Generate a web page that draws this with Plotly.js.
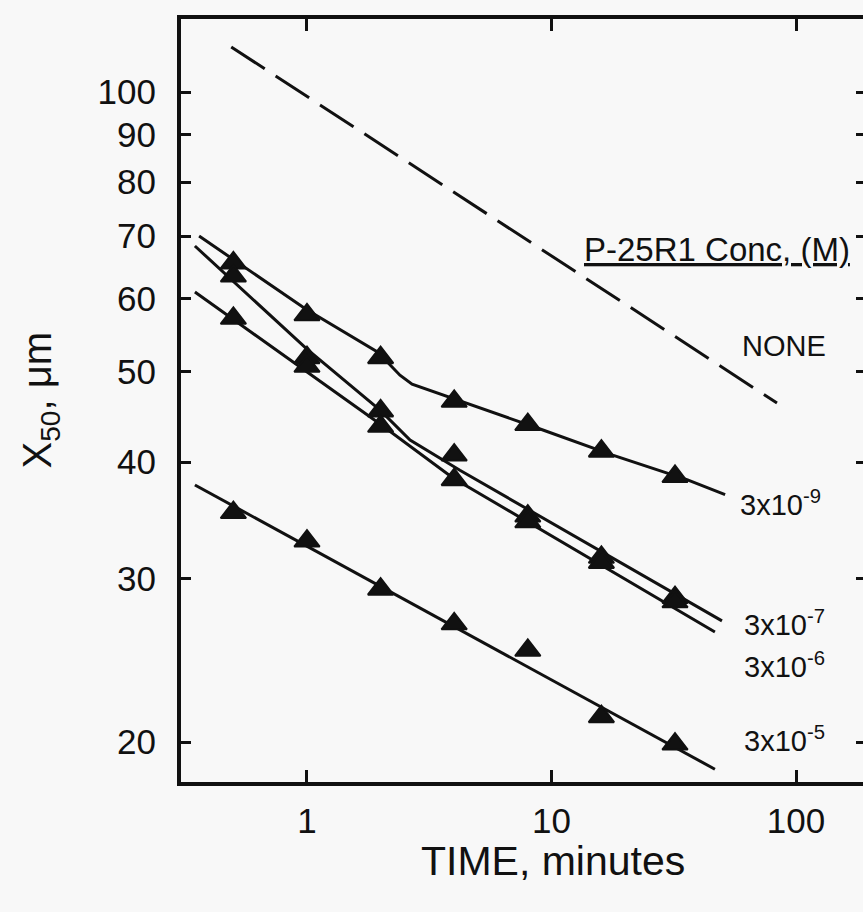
<!DOCTYPE html>
<html>
<head>
<meta charset="utf-8">
<script src="https://cdn.plot.ly/plotly-3.0.1.min.js"></script>
<style>
  html, body { margin: 0; padding: 0; background: #f8f8f8; overflow: hidden; }
  #chart { width: 880px; height: 912px; }
</style>
</head>
<body>
<div id="chart"></div>
<script>
// Measured points (time in minutes, X50 in micrometres)
const timeMin = [0.5, 1, 2, 4, 8, 16, 32];
const x50_3e9 = [65.5, 57.6, 51.8, 46.5, 43.9, 41.1, 38.6];
const x50_3e7 = [63.4, 51.8, 45.4, 40.7, 35.0, 31.6, 28.6];
const x50_3e6 = [57.1, 50.7, 43.7, 38.3, 34.5, 31.2, 28.3];
const x50_3e5 = [35.3, 32.9, 29.2, 26.8, 25.1, 21.3, 19.9];

// Fitted curves
const fitNone_t   = [0.49, 83.6];
const fitNone_x50 = [111.8, 46.3];
const fit3e9_t    = [0.362, 0.991, 1.95, 2.40, 2.69, 3.99, 8.81, 17.8, 35.8, 51.3];
const fit3e9_x50  = [70.0, 58.4, 52.5, 49.6, 48.5, 46.8, 43.5, 40.7, 38.3, 36.9];
const fit3e7_t    = [0.348, 1.0, 1.99, 2.64, 4.22, 49.8];
const fit3e7_x50  = [68.3, 52.9, 45.5, 42.25, 39.2, 27.0];
const fit3e6_t    = [0.348, 0.936, 1.99, 3.955, 46.6];
const fit3e6_x50  = [60.95, 50.6, 43.96, 38.46, 26.27];
const fit3e5_t    = [0.348, 46.6];
const fit3e5_x50  = [37.8, 18.7];

const xTicks = [1, 10, 100];
const yTicks = [20, 30, 40, 50, 60, 70, 80, 90, 100];

const INK = '#111111';
const FONT = 'Liberation Sans, Arial, sans-serif';

function fit(t, v) {
  return { x: t, y: v, type: 'scatter', mode: 'lines',
           line: { color: INK, width: 3 }, hoverinfo: 'skip', showlegend: false };
}
function pts(v) {
  return { x: timeMin, y: v, type: 'scatter', mode: 'markers',
           marker: { symbol: 'triangle-up', size: 22, color: INK,
                     line: { color: INK, width: 2 } }, showlegend: false };
}

const traces = [
  { x: fitNone_t, y: fitNone_x50, type: 'scatter', mode: 'lines',
    line: { color: INK, width: 3, dash: '40px,13px' }, showlegend: false },
  fit(fit3e9_t, fit3e9_x50),
  fit(fit3e7_t, fit3e7_x50),
  fit(fit3e6_t, fit3e6_x50),
  fit(fit3e5_t, fit3e5_x50),
  pts(x50_3e9), pts(x50_3e7), pts(x50_3e6), pts(x50_3e5)
];

function lab(text, lx, ly, size) {
  return { text: text, xref: 'x', yref: 'y', x: lx, y: ly, showarrow: false,
           xanchor: 'left', yanchor: 'middle',
           font: { family: FONT, size: size, color: INK } };
}

const layout = {
  width: 880, height: 912,
  margin: { l: 181, r: 14, t: 19, b: 130 },
  paper_bgcolor: '#f8f8f8', plot_bgcolor: '#f8f8f8',
  font: { family: FONT, color: INK },
  showlegend: false,
  xaxis: {
    type: 'log', range: [-0.5153, 2.2863],
    tickvals: xTicks, ticktext: xTicks.map(String),
    ticks: 'inside', ticklen: 12, tickwidth: 3, tickcolor: INK,
    showline: true, linewidth: 4, linecolor: INK, mirror: 'ticks',
    showgrid: false, zeroline: false,
    tickfont: { family: FONT, size: 35, color: INK },
    ticklabelstandoff: 5
  },
  yaxis: {
    type: 'log', range: [1.2581, 2.0785],
    tickvals: yTicks, ticktext: yTicks.map(String),
    ticks: 'inside', ticklen: 10, tickwidth: 3, tickcolor: INK,
    showline: true, linewidth: 4, linecolor: INK, mirror: 'ticks',
    showgrid: false, zeroline: false,
    tickfont: { family: FONT, size: 35, color: INK },
    ticklabelstandoff: 14
  },
  annotations: [
    lab('<u>P-25R1 Conc, (M)</u>', 1.1247, 1.8312, 33),
    lab('NONE', 1.771, 1.7269, 29),
    lab('3x10<sup>-9</sup>', 1.7628, 1.5581, 29),
    lab('3x10<sup>-7</sup>', 1.7791, 1.4290, 29),
    lab('3x10<sup>-6</sup>', 1.7791, 1.3839, 29),
    lab('3x10<sup>-5</sup>', 1.7791, 1.3043, 29),
    { text: 'TIME, minutes', xref: 'paper', yref: 'paper', x: 0.543, y: -0.103,
      xanchor: 'center', yanchor: 'middle', showarrow: false,
      font: { family: FONT, size: 41, color: INK } },
    { text: 'X<sub>50</sub>, μm', xref: 'paper', yref: 'paper', x: -0.2060, y: 0.5,
      xanchor: 'center', yanchor: 'middle', showarrow: false, textangle: -90,
      font: { family: FONT, size: 40, color: INK } }
  ]
};

Plotly.newPlot('chart', traces, layout, { displayModeBar: false, staticPlot: true });
</script>
</body>
</html>
